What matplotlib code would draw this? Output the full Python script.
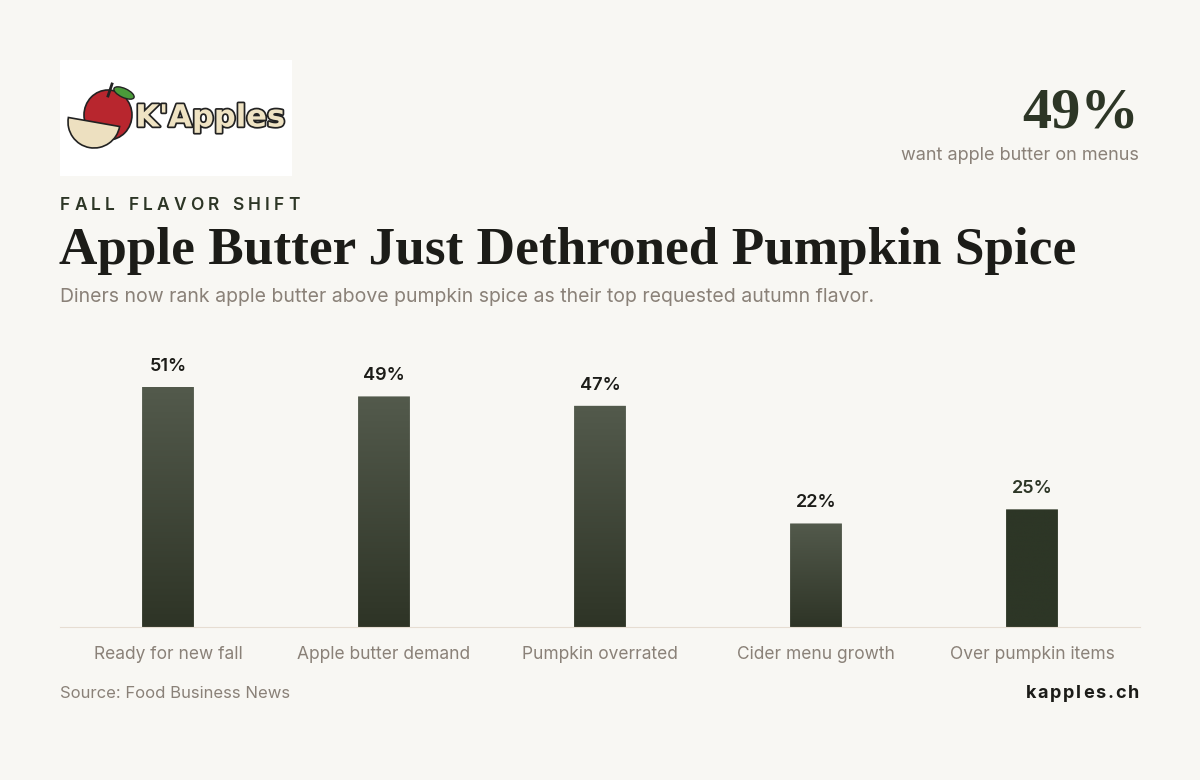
import matplotlib
matplotlib.use("Agg")
import matplotlib.pyplot as plt
import numpy as np
from matplotlib.patches import FancyBboxPatch, Rectangle, Ellipse, Wedge
from matplotlib.colors import LinearSegmentedColormap
import matplotlib.patheffects as pe

categories = ["Ready for new fall", "Apple butter demand", "Pumpkin overrated", "Cider menu growth", "Over pumpkin items"]
values = [51, 49, 47, 22, 25]
labels = ["51%", "49%", "47%", "22%", "25%"]

W, H = 1200, 780
BG = "#f8f7f3"
fig = plt.figure(figsize=(12, 7.8), dpi=100, facecolor=BG)
renderer = fig.canvas.get_renderer()

def fx(x): return x / W
def fy(y): return 1 - y / H

sans = ["Inter", "DejaVu Sans"]
serif = ["Liberation Serif", "DejaVu Serif"]

def tracked(text, x, y, track, align_right=False, **kw):
    ts, widths = [], []
    for ch in text:
        t = fig.text(fx(x), fy(y), ch, va="center", ha="left", **kw)
        w = t.get_window_extent(renderer).width if ch != " " else 5
        ts.append(t); widths.append(w)
    total = sum(widths) + track * (len(text) - 1)
    start = x - total if align_right else x
    cx = start
    for t, w in zip(ts, widths):
        t.set_x(fx(cx)); cx += w + track

tracked("FALL FLAVOR SHIFT", 60, 205, 4.2, family=sans, fontsize=12.5, weight="semibold", color="#2d3626")
tracked("kapples.ch", 1139, 694, 1.8, align_right=True, family=sans, fontsize=13, weight="bold", color="#1c1c18")

fig.text(fx(59), fy(251), "Apple Butter Just Dethroned Pumpkin Spice", family=serif,
         fontsize=38.3, weight="bold", color="#1c1c18", va="center", ha="left")
fig.text(fx(60), fy(297), "Diners now rank apple butter above pumpkin spice as their top requested autumn flavor.",
         family=sans, fontsize=14, color="#8a8178", va="center", ha="left")
fig.text(fx(1139), fy(113), "49%", family=serif, fontsize=42, weight="bold",
         color="#2d3626", va="center", ha="right")
fig.text(fx(1139), fy(155), "want apple butter on menus", family=sans, fontsize=13, color="#8a8178",
         va="center", ha="right")
fig.text(fx(60), fy(694), "Source: Food Business News", family=sans, fontsize=12, color="#8a8178",
         va="center", ha="left")

# logo
lax = fig.add_axes([fx(60), fy(176), fx(232), (176 - 60) / H])
lax.set_xlim(0, 232); lax.set_ylim(116, 0); lax.axis("off")
lax.add_patch(Rectangle((0, 0), 232, 116, color="white"))
lax.add_patch(Ellipse((48, 55), 48, 50, facecolor="#b8262e", edgecolor="#222", lw=1.2))
lax.add_patch(Ellipse((64, 33), 22, 9, angle=25, facecolor="#4a9a3a", edgecolor="#222", lw=1))
lax.plot([48, 52], [36, 24], color="#222", lw=2)
lax.add_patch(Wedge((34, 62), 26, 10, 190, facecolor="#ede0c0", edgecolor="#222", lw=1.2))
lax.text(150, 58, "K'Apples", fontsize=22, weight="bold", color="#efe3c3", ha="center", va="center",
         family=["DejaVu Sans"], path_effects=[pe.withStroke(linewidth=2.5, foreground="#222")])

# chart
top_px, base_px = 340, 627
ax = fig.add_axes([fx(60), fy(base_px), fx(1080), (base_px - top_px) / H])
ax.set_facecolor(BG)
ax.set_ylim(0, (base_px - top_px) / (240 / 51))
for s in ["top", "right", "left"]:
    ax.spines[s].set_visible(False)
ax.spines["bottom"].set_color("#e6ddd2")
ax.set_yticks([])
ax.set_xticks(range(len(categories)))
ax.set_xticklabels(categories, family=sans, fontsize=12.5, color="#8a8178")
ax.tick_params(axis="x", length=0, pad=14)

bw = 0.24
grad = np.linspace(0, 1, 256).reshape(-1, 1)
cmap = LinearSegmentedColormap.from_list("g", ["#2e3426", "#535a4c"])
solid = LinearSegmentedColormap.from_list("s", ["#2d3626", "#2d3626"])
for i, v in enumerate(values):
    patch = FancyBboxPatch((i - bw / 2, 0), bw, v, boxstyle="round,pad=0,rounding_size=0.02",
                           mutation_aspect=0.3, facecolor="none", edgecolor="none")
    ax.add_patch(patch)
    last = i == len(values) - 1
    im = ax.imshow(grad, extent=(i - bw / 2, i + bw / 2, 0, v), origin="lower",
                   cmap=solid if last else cmap, aspect="auto")
    im.set_clip_path(patch)
    ax.text(i, v + 2.6, labels[i], ha="center", va="bottom", family=sans, fontsize=13,
            weight="semibold", color="#2d3626" if last else "#1c1c18")
ax.set_xlim(-0.5, len(categories) - 0.5)

fig.savefig("out.png", dpi=100, facecolor=BG)
